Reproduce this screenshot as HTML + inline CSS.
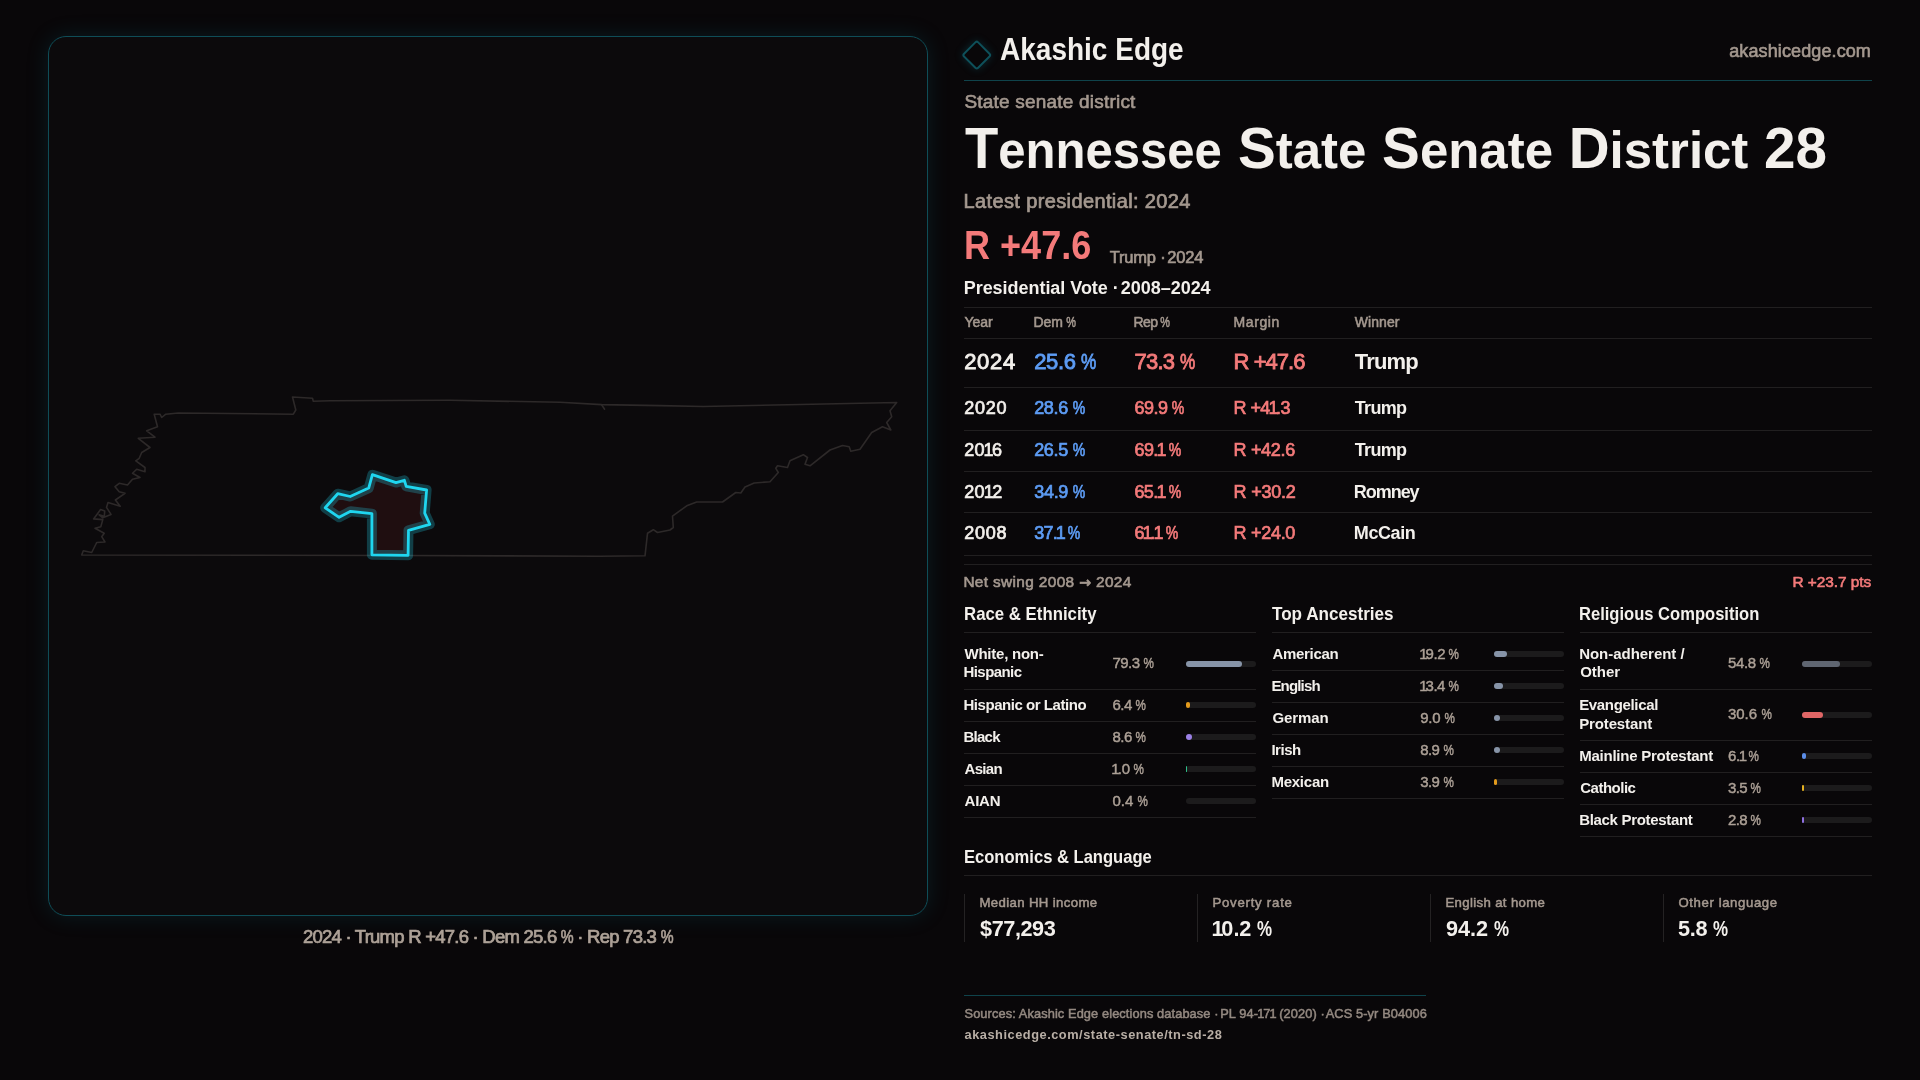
<!DOCTYPE html>
<html><head><meta charset="utf-8"><title>Tennessee State Senate District 28</title><style>
html,body{margin:0;padding:0;}
body{width:1920px;height:1080px;overflow:hidden;background:#090709;font-family:"Liberation Sans",Arial,sans-serif;position:relative;}
#root{position:absolute;left:0;top:0;width:1920px;height:1080px;will-change:transform;}
#root>div{white-space:nowrap;line-height:1;}
.ar{font-family:"DejaVu Sans",sans-serif;font-weight:700;font-size:0.92em;}.pc{display:inline-block;transform:scaleX(.78);margin:0 -.098em;}.d1{margin:0 -.10em 0 -.07em;}.lc{font-size:.9em;}.dt{margin-right:-.16em;}
</style></head><body><div id="root">
<div style="position:absolute;left:48px;top:36px;width:878px;height:878px;border:1px solid #0f4d57;border-radius:18px;background:#0c0a0c;box-shadow:0 0 22px rgba(16,120,140,0.18);"></div>
<div style="position:absolute;left:966.45px;top:43.95px;width:17.5px;height:17.5px;border:2px solid #0e505a;border-radius:3px;transform:rotate(45deg);box-shadow:0 0 8px rgba(20,140,160,0.25);"></div>
<div style="position:absolute;left:964px;top:80px;width:908px;height:1px;background:#0f434b;"></div>
<div style="position:absolute;left:964px;top:307px;width:908px;height:1px;background:#211f20;"></div>
<div style="position:absolute;left:964px;top:338px;width:908px;height:1px;background:#211f20;"></div>
<div style="position:absolute;left:964px;top:387px;width:908px;height:1px;background:#211f20;"></div>
<div style="position:absolute;left:964px;top:430px;width:908px;height:1px;background:#211f20;"></div>
<div style="position:absolute;left:964px;top:471px;width:908px;height:1px;background:#211f20;"></div>
<div style="position:absolute;left:964px;top:512px;width:908px;height:1px;background:#211f20;"></div>
<div style="position:absolute;left:964px;top:555px;width:908px;height:1px;background:#211f20;"></div>
<div style="position:absolute;left:964px;top:564px;width:908px;height:1px;background:#211f20;"></div>
<div style="position:absolute;left:964px;top:632px;width:292px;height:1px;background:#211f20;"></div>
<div style="position:absolute;left:1272px;top:632px;width:292px;height:1px;background:#211f20;"></div>
<div style="position:absolute;left:1580px;top:632px;width:292px;height:1px;background:#211f20;"></div>
<div style="position:absolute;left:964px;top:689px;width:292px;height:1px;background:#211f20;"></div>
<div style="position:absolute;left:1186px;top:660.7px;width:70px;height:6px;background:#1c1b1c;border-radius:3px;"></div>
<div style="position:absolute;left:1186px;top:660.7px;width:55.51px;height:6px;background:#8794a8;border-radius:3px;"></div>
<div style="position:absolute;left:964px;top:721px;width:292px;height:1px;background:#211f20;"></div>
<div style="position:absolute;left:1186px;top:701.7px;width:70px;height:6px;background:#1c1b1c;border-radius:3px;"></div>
<div style="position:absolute;left:1186px;top:701.7px;width:4.48px;height:6px;background:#e39a1c;border-radius:3px;"></div>
<div style="position:absolute;left:964px;top:753px;width:292px;height:1px;background:#211f20;"></div>
<div style="position:absolute;left:1186px;top:733.7px;width:70px;height:6px;background:#1c1b1c;border-radius:3px;"></div>
<div style="position:absolute;left:1186px;top:733.7px;width:6.02px;height:6px;background:#9b80e6;border-radius:3px;"></div>
<div style="position:absolute;left:964px;top:785px;width:292px;height:1px;background:#211f20;"></div>
<div style="position:absolute;left:1186px;top:765.7px;width:70px;height:6px;background:#1c1b1c;border-radius:3px;"></div>
<div style="position:absolute;left:1186px;top:765.7px;width:0.7px;height:6px;background:#2fbf8a;border-radius:3px;"></div>
<div style="position:absolute;left:964px;top:817px;width:292px;height:1px;background:#211f20;"></div>
<div style="position:absolute;left:1186px;top:797.7px;width:70px;height:6px;background:#1c1b1c;border-radius:3px;"></div>
<div style="position:absolute;left:1272px;top:670px;width:292px;height:1px;background:#211f20;"></div>
<div style="position:absolute;left:1494px;top:650.7px;width:70px;height:6px;background:#1c1b1c;border-radius:3px;"></div>
<div style="position:absolute;left:1494px;top:650.7px;width:13.44px;height:6px;background:#8794a8;border-radius:3px;"></div>
<div style="position:absolute;left:1272px;top:702px;width:292px;height:1px;background:#211f20;"></div>
<div style="position:absolute;left:1494px;top:682.7px;width:70px;height:6px;background:#1c1b1c;border-radius:3px;"></div>
<div style="position:absolute;left:1494px;top:682.7px;width:9.38px;height:6px;background:#8794a8;border-radius:3px;"></div>
<div style="position:absolute;left:1272px;top:734px;width:292px;height:1px;background:#211f20;"></div>
<div style="position:absolute;left:1494px;top:714.7px;width:70px;height:6px;background:#1c1b1c;border-radius:3px;"></div>
<div style="position:absolute;left:1494px;top:714.7px;width:6.3px;height:6px;background:#8794a8;border-radius:3px;"></div>
<div style="position:absolute;left:1272px;top:766px;width:292px;height:1px;background:#211f20;"></div>
<div style="position:absolute;left:1494px;top:746.7px;width:70px;height:6px;background:#1c1b1c;border-radius:3px;"></div>
<div style="position:absolute;left:1494px;top:746.7px;width:6.23px;height:6px;background:#8794a8;border-radius:3px;"></div>
<div style="position:absolute;left:1272px;top:798px;width:292px;height:1px;background:#211f20;"></div>
<div style="position:absolute;left:1494px;top:778.7px;width:70px;height:6px;background:#1c1b1c;border-radius:3px;"></div>
<div style="position:absolute;left:1494px;top:778.7px;width:2.73px;height:6px;background:#e39a1c;border-radius:3px;"></div>
<div style="position:absolute;left:1580px;top:689px;width:292px;height:1px;background:#211f20;"></div>
<div style="position:absolute;left:1802px;top:660.7px;width:70px;height:6px;background:#1c1b1c;border-radius:3px;"></div>
<div style="position:absolute;left:1802px;top:660.7px;width:38.36px;height:6px;background:#5f6571;border-radius:3px;"></div>
<div style="position:absolute;left:1580px;top:740px;width:292px;height:1px;background:#211f20;"></div>
<div style="position:absolute;left:1802px;top:711.7px;width:70px;height:6px;background:#1c1b1c;border-radius:3px;"></div>
<div style="position:absolute;left:1802px;top:711.7px;width:21.42px;height:6px;background:#e06666;border-radius:3px;"></div>
<div style="position:absolute;left:1580px;top:772px;width:292px;height:1px;background:#211f20;"></div>
<div style="position:absolute;left:1802px;top:752.7px;width:70px;height:6px;background:#1c1b1c;border-radius:3px;"></div>
<div style="position:absolute;left:1802px;top:752.7px;width:4.27px;height:6px;background:#5b8de8;border-radius:3px;"></div>
<div style="position:absolute;left:1580px;top:804px;width:292px;height:1px;background:#211f20;"></div>
<div style="position:absolute;left:1802px;top:784.7px;width:70px;height:6px;background:#1c1b1c;border-radius:3px;"></div>
<div style="position:absolute;left:1802px;top:784.7px;width:2.45px;height:6px;background:#e3b021;border-radius:3px;"></div>
<div style="position:absolute;left:1580px;top:836px;width:292px;height:1px;background:#211f20;"></div>
<div style="position:absolute;left:1802px;top:816.7px;width:70px;height:6px;background:#1c1b1c;border-radius:3px;"></div>
<div style="position:absolute;left:1802px;top:816.7px;width:1.96px;height:6px;background:#8f70e0;border-radius:3px;"></div>
<div style="position:absolute;left:964px;top:875px;width:908px;height:1px;background:#211f20;"></div>
<div style="position:absolute;left:964px;top:894px;width:1px;height:48px;background:#242223;"></div>
<div style="position:absolute;left:1197px;top:894px;width:1px;height:48px;background:#242223;"></div>
<div style="position:absolute;left:1430px;top:894px;width:1px;height:48px;background:#242223;"></div>
<div style="position:absolute;left:1663px;top:894px;width:1px;height:48px;background:#242223;"></div>
<div style="position:absolute;left:964px;top:995px;width:462px;height:1px;background:#0f434b;"></div>
<svg style="position:absolute;left:0;top:0" width="1920" height="1080" viewBox="0 0 1920 1080"><path d="M81.7,555 L83.3,550.8 L91.7,552.5 L96.7,542.5 L105,542 L101.7,536.7 L104.2,533.3 L95,528.3 L100.8,526.7 L102.8,519.6 L93.6,518.9 L100.6,509.6 L104.7,511.1 L104.3,516.3 L99.1,514.8 L102.8,517.8 L111,514.4 L106.5,507.4 L108,502.6 L120.2,506.3 L115.4,500 L125,493.3 L119.2,491.7 L115,486.7 L119.2,483.3 L127.5,485 L132.5,479.2 L140,477.5 L132.5,473.3 L136.7,469.2 L145,471.7 L145,467.5 L135.8,460.8 L139.2,458.3 L141.7,452.5 L150,447.5 L138.3,438.3 L155,437.2 L146.7,430.8 L157.5,426.7 L154.2,414.2 L160,414.2 L161.7,417.5 L165.8,414.2 L178.3,413 L293.3,414.2 L295.8,410 L292.5,397 L312.5,398.3 L313.3,401.3 L330,400.8 L450,400.3 L560,402.2 L601.5,404.6 L660,405.6 L703,406.5 L800,404.5 L896.7,402.5 L890,410.8 L891.7,416.7 L886.7,422.5 L890.8,430 L882.5,426.7 L871.7,432.5 L860,449.2 L850.8,451.3 L849.2,446.7 L842.5,445.5 L830,450 L810,465.8 L805,464.2 L807.5,457.5 L803.3,454.7 L790,460.8 L787.5,467.5 L777.5,465.8 L775.8,468.3 L778.3,472.5 L770,481.7 L754.2,483 L745,487 L740.8,493 L735.8,492.5 L722.5,502 L696.7,502 L686.7,505.8 L672.5,516.2 L673.3,527.5 L670,530 L657.5,532.5 L653.3,529.7 L647.5,533.3 L645,555.8 L600,556.2 L400,555.5 L81.7,555 Z" fill="none" stroke="#2d2929" stroke-width="1.6" stroke-linejoin="round"/><path d="M601.5,404.6 L604.6,409.2" fill="none" stroke="#2d2929" stroke-width="1.6" stroke-linecap="round"/><path d="M372.4,474.7 L396,482.6 L404.4,480.3 L406.2,486.3 L426.6,490 L424.7,513.1 L429.8,524.3 L408.5,530.3 L408.1,555.3 L371.9,554.8 L371.9,513.6 L350.6,511.3 L339.1,517.3 L325.2,507.8 L337.7,493.7 L350.2,496.5 L368.7,488.1 Z" fill="#1f0e10" stroke="rgba(34,211,238,0.26)" stroke-width="10" stroke-linejoin="round"/><path d="M372.4,474.7 L396,482.6 L404.4,480.3 L406.2,486.3 L426.6,490 L424.7,513.1 L429.8,524.3 L408.5,530.3 L408.1,555.3 L371.9,554.8 L371.9,513.6 L350.6,511.3 L339.1,517.3 L325.2,507.8 L337.7,493.7 L350.2,496.5 L368.7,488.1 Z" fill="none" stroke="#1fd6ef" stroke-width="2.8" stroke-linejoin="round"/></svg>
<div style="position:absolute;left:1000.0px;top:34.2px;color:#f3f0ec;font-size:31.00px;font-weight:700;transform:scaleX(0.9035);transform-origin:0 0;">Akashic Edge</div>
<div style="position:absolute;left:1729.2px;top:41.7px;color:#a4988f;font-size:18.00px;font-weight:400;letter-spacing:0.114px;-webkit-text-stroke:0.65px currentColor;">akashicedge.com</div>
<div style="position:absolute;left:964.5px;top:91.7px;color:#a4988f;font-size:19.00px;font-weight:400;letter-spacing:0.200px;-webkit-text-stroke:0.65px currentColor;">State senate district</div>
<div style="position:absolute;left:965.0px;top:119.8px;color:#f3f0ec;font-size:57.00px;font-weight:700;transform:scaleX(0.9558);transform-origin:0 0;">T<span class="lc">ennessee</span></div>
<div style="position:absolute;left:1238.0px;top:119.8px;color:#f3f0ec;font-size:57.00px;font-weight:700;transform:scaleX(0.9932);transform-origin:0 0;">S<span class="lc">tate</span> S<span class="lc">enate</span> D<span class="lc">istrict</span> 28</div>
<div style="position:absolute;left:963.5px;top:191.1px;color:#a4988f;font-size:20.00px;font-weight:400;letter-spacing:0.375px;-webkit-text-stroke:0.70px currentColor;">Latest presidential: 2024</div>
<div style="position:absolute;left:964.0px;top:225.4px;color:#f47a7a;font-size:40.00px;font-weight:700;transform:scaleX(0.9015);transform-origin:0 0;">R +47.6</div>
<div style="position:absolute;left:1109.7px;top:249.4px;color:#a4988f;font-size:16.50px;font-weight:400;letter-spacing:-0.182px;-webkit-text-stroke:0.66px currentColor;">Trump <span class="dt">·</span> 2024</div>
<div style="position:absolute;left:963.7px;top:279.2px;color:#f3f0ec;font-size:18.00px;font-weight:700;letter-spacing:-0.036px;">Presidential Vote <span class="dt">·</span> 2008–2024</div>
<div style="position:absolute;left:964.5px;top:314.7px;color:#a4988f;font-size:14.00px;font-weight:400;letter-spacing:-0.067px;-webkit-text-stroke:0.56px currentColor;">Year</div>
<div style="position:absolute;left:1033.6px;top:314.7px;color:#a4988f;font-size:14.00px;font-weight:400;letter-spacing:-0.150px;-webkit-text-stroke:0.56px currentColor;">Dem <span class="pc">%</span></div>
<div style="position:absolute;left:1133.6px;top:314.7px;color:#a4988f;font-size:14.00px;font-weight:400;letter-spacing:-0.650px;-webkit-text-stroke:0.56px currentColor;">Rep <span class="pc">%</span></div>
<div style="position:absolute;left:1233.6px;top:314.7px;color:#a4988f;font-size:14.00px;font-weight:400;letter-spacing:0.560px;-webkit-text-stroke:0.56px currentColor;">Margin</div>
<div style="position:absolute;left:1354.7px;top:314.7px;color:#a4988f;font-size:14.00px;font-weight:400;letter-spacing:0.080px;-webkit-text-stroke:0.56px currentColor;">Winner</div>
<div style="position:absolute;left:964.2px;top:350.6px;color:#f3f0ec;font-size:22.00px;font-weight:400;letter-spacing:0.667px;-webkit-text-stroke:0.88px currentColor;">2024</div>
<div style="position:absolute;left:1034.2px;top:350.6px;color:#5d9cf4;font-size:22.00px;font-weight:400;letter-spacing:-0.360px;-webkit-text-stroke:0.88px currentColor;">25.6 <span class="pc">%</span></div>
<div style="position:absolute;left:1134.4px;top:350.6px;color:#f47a7a;font-size:22.00px;font-weight:400;letter-spacing:-0.720px;-webkit-text-stroke:0.88px currentColor;">73.3 <span class="pc">%</span></div>
<div style="position:absolute;left:1233.6px;top:350.6px;color:#f47a7a;font-size:22.00px;font-weight:400;letter-spacing:-0.967px;-webkit-text-stroke:0.88px currentColor;">R +47.6</div>
<div style="position:absolute;left:1354.8px;top:350.6px;color:#f3f0ec;font-size:22.00px;font-weight:700;letter-spacing:-0.850px;">Trump</div>
<div style="position:absolute;left:964.2px;top:399.4px;color:#f3f0ec;font-size:18.00px;font-weight:400;letter-spacing:0.800px;-webkit-text-stroke:0.72px currentColor;">2020</div>
<div style="position:absolute;left:1034.2px;top:399.4px;color:#5d9cf4;font-size:18.00px;font-weight:400;letter-spacing:-0.360px;-webkit-text-stroke:0.72px currentColor;">28.6 <span class="pc">%</span></div>
<div style="position:absolute;left:1134.4px;top:399.4px;color:#f47a7a;font-size:18.00px;font-weight:400;letter-spacing:-0.440px;-webkit-text-stroke:0.72px currentColor;">69.9 <span class="pc">%</span></div>
<div style="position:absolute;left:1233.6px;top:399.4px;color:#f47a7a;font-size:18.00px;font-weight:400;letter-spacing:-0.600px;-webkit-text-stroke:0.72px currentColor;">R +4<span class="d1">1</span>.3</div>
<div style="position:absolute;left:1354.8px;top:399.4px;color:#f3f0ec;font-size:18.00px;font-weight:700;letter-spacing:-0.700px;">Trump</div>
<div style="position:absolute;left:964.2px;top:440.5px;color:#f3f0ec;font-size:18.00px;font-weight:400;letter-spacing:0.267px;-webkit-text-stroke:0.72px currentColor;">20<span class="d1">1</span>6</div>
<div style="position:absolute;left:1034.2px;top:440.5px;color:#5d9cf4;font-size:18.00px;font-weight:400;letter-spacing:-0.360px;-webkit-text-stroke:0.72px currentColor;">26.5 <span class="pc">%</span></div>
<div style="position:absolute;left:1134.4px;top:440.5px;color:#f47a7a;font-size:18.00px;font-weight:400;letter-spacing:-0.520px;-webkit-text-stroke:0.72px currentColor;">69.<span class="d1">1</span> <span class="pc">%</span></div>
<div style="position:absolute;left:1233.6px;top:440.5px;color:#f47a7a;font-size:18.00px;font-weight:400;letter-spacing:-0.333px;-webkit-text-stroke:0.72px currentColor;">R +42.6</div>
<div style="position:absolute;left:1354.8px;top:440.5px;color:#f3f0ec;font-size:18.00px;font-weight:700;letter-spacing:-0.700px;">Trump</div>
<div style="position:absolute;left:964.2px;top:482.6px;color:#f3f0ec;font-size:18.00px;font-weight:400;letter-spacing:0.333px;-webkit-text-stroke:0.72px currentColor;">20<span class="d1">1</span>2</div>
<div style="position:absolute;left:1034.2px;top:482.6px;color:#5d9cf4;font-size:18.00px;font-weight:400;letter-spacing:-0.280px;-webkit-text-stroke:0.72px currentColor;">34.9 <span class="pc">%</span></div>
<div style="position:absolute;left:1134.4px;top:482.6px;color:#f47a7a;font-size:18.00px;font-weight:400;letter-spacing:-0.600px;-webkit-text-stroke:0.72px currentColor;">65.<span class="d1">1</span> <span class="pc">%</span></div>
<div style="position:absolute;left:1233.6px;top:482.6px;color:#f47a7a;font-size:18.00px;font-weight:400;letter-spacing:-0.233px;-webkit-text-stroke:0.72px currentColor;">R +30.2</div>
<div style="position:absolute;left:1353.8px;top:482.6px;color:#f3f0ec;font-size:18.00px;font-weight:700;letter-spacing:-1.040px;">Romney</div>
<div style="position:absolute;left:964.2px;top:524.4px;color:#f3f0ec;font-size:18.00px;font-weight:400;letter-spacing:0.800px;-webkit-text-stroke:0.72px currentColor;">2008</div>
<div style="position:absolute;left:1034.2px;top:524.4px;color:#5d9cf4;font-size:18.00px;font-weight:400;letter-spacing:-0.760px;-webkit-text-stroke:0.72px currentColor;">37.<span class="d1">1</span> <span class="pc">%</span></div>
<div style="position:absolute;left:1134.4px;top:524.4px;color:#f47a7a;font-size:18.00px;font-weight:400;letter-spacing:-0.560px;-webkit-text-stroke:0.72px currentColor;">6<span class="d1">1</span>.<span class="d1">1</span> <span class="pc">%</span></div>
<div style="position:absolute;left:1233.6px;top:524.4px;color:#f47a7a;font-size:18.00px;font-weight:400;letter-spacing:-0.300px;-webkit-text-stroke:0.72px currentColor;">R +24.0</div>
<div style="position:absolute;left:1353.8px;top:524.4px;color:#f3f0ec;font-size:18.00px;font-weight:700;letter-spacing:-0.400px;">McCain</div>
<div style="position:absolute;left:963.4px;top:574.4px;color:#a4988f;font-size:15.40px;font-weight:400;letter-spacing:0.360px;-webkit-text-stroke:0.62px currentColor;">Net swing 2008 <span class="ar">→</span> 2024</div>
<div style="position:absolute;left:1792.4px;top:574.2px;color:#f47a7a;font-size:15.40px;font-weight:400;letter-spacing:-0.040px;-webkit-text-stroke:0.62px currentColor;">R +23.7 pts</div>
<div style="position:absolute;left:963.5px;top:604.6px;color:#f3f0ec;font-size:18.50px;font-weight:700;transform:scaleX(0.9076);transform-origin:0 0;">Race &amp; Ethnicity</div>
<div style="position:absolute;left:1272.4px;top:604.6px;color:#f3f0ec;font-size:18.50px;font-weight:700;transform:scaleX(0.9237);transform-origin:0 0;">Top Ancestries</div>
<div style="position:absolute;left:1579.2px;top:604.6px;color:#f3f0ec;font-size:18.50px;font-weight:700;transform:scaleX(0.8950);transform-origin:0 0;">Religious Composition</div>
<div style="position:absolute;left:964.5px;top:645.8px;color:#f3f0ec;font-size:15.00px;font-weight:700;letter-spacing:-0.240px;">White, non-</div>
<div style="position:absolute;left:963.5px;top:664.4px;color:#f3f0ec;font-size:15.00px;font-weight:700;letter-spacing:-0.571px;">Hispanic</div>
<div style="position:absolute;left:1112.4px;top:655.0px;color:#aca096;font-size:15.00px;font-weight:400;letter-spacing:-0.520px;-webkit-text-stroke:0.45px currentColor;">79.3 <span class="pc">%</span></div>
<div style="position:absolute;left:963.5px;top:696.6px;color:#f3f0ec;font-size:15.00px;font-weight:700;letter-spacing:-0.459px;">Hispanic or Latino</div>
<div style="position:absolute;left:1112.4px;top:696.6px;color:#aca096;font-size:15.00px;font-weight:400;letter-spacing:-0.400px;-webkit-text-stroke:0.45px currentColor;">6.4 <span class="pc">%</span></div>
<div style="position:absolute;left:963.5px;top:728.6px;color:#f3f0ec;font-size:15.00px;font-weight:700;letter-spacing:-0.750px;">Black</div>
<div style="position:absolute;left:1112.4px;top:728.6px;color:#aca096;font-size:15.00px;font-weight:400;letter-spacing:-0.450px;-webkit-text-stroke:0.45px currentColor;">8.6 <span class="pc">%</span></div>
<div style="position:absolute;left:964.5px;top:760.6px;color:#f3f0ec;font-size:15.00px;font-weight:700;letter-spacing:-0.700px;">Asian</div>
<div style="position:absolute;left:1112.4px;top:760.6px;color:#aca096;font-size:15.00px;font-weight:400;letter-spacing:-0.350px;-webkit-text-stroke:0.45px currentColor;"><span class="d1">1</span>.0 <span class="pc">%</span></div>
<div style="position:absolute;left:964.5px;top:792.5px;color:#f3f0ec;font-size:15.00px;font-weight:700;letter-spacing:-0.200px;">AIAN</div>
<div style="position:absolute;left:1112.4px;top:792.5px;color:#aca096;font-size:15.00px;font-weight:400;-webkit-text-stroke:0.45px currentColor;">0.4 <span class="pc">%</span></div>
<div style="position:absolute;left:1272.4px;top:645.8px;color:#f3f0ec;font-size:15.00px;font-weight:700;letter-spacing:-0.286px;">American</div>
<div style="position:absolute;left:1420.2px;top:645.8px;color:#aca096;font-size:15.00px;font-weight:400;letter-spacing:-0.440px;-webkit-text-stroke:0.45px currentColor;"><span class="d1">1</span>9.2 <span class="pc">%</span></div>
<div style="position:absolute;left:1271.4px;top:677.8px;color:#f3f0ec;font-size:15.00px;font-weight:700;letter-spacing:-0.833px;">English</div>
<div style="position:absolute;left:1420.2px;top:677.8px;color:#aca096;font-size:15.00px;font-weight:400;letter-spacing:-0.480px;-webkit-text-stroke:0.45px currentColor;"><span class="d1">1</span>3.4 <span class="pc">%</span></div>
<div style="position:absolute;left:1272.4px;top:709.8px;color:#f3f0ec;font-size:15.00px;font-weight:700;letter-spacing:-0.080px;">German</div>
<div style="position:absolute;left:1420.2px;top:709.8px;color:#aca096;font-size:15.00px;font-weight:400;letter-spacing:-0.250px;-webkit-text-stroke:0.45px currentColor;">9.0 <span class="pc">%</span></div>
<div style="position:absolute;left:1271.4px;top:741.8px;color:#f3f0ec;font-size:15.00px;font-weight:700;letter-spacing:-0.450px;">Irish</div>
<div style="position:absolute;left:1420.2px;top:741.8px;color:#aca096;font-size:15.00px;font-weight:400;letter-spacing:-0.550px;-webkit-text-stroke:0.45px currentColor;">8.9 <span class="pc">%</span></div>
<div style="position:absolute;left:1271.4px;top:773.8px;color:#f3f0ec;font-size:15.00px;font-weight:700;letter-spacing:-0.233px;">Mexican</div>
<div style="position:absolute;left:1420.2px;top:773.8px;color:#aca096;font-size:15.00px;font-weight:400;letter-spacing:-0.550px;-webkit-text-stroke:0.45px currentColor;">3.9 <span class="pc">%</span></div>
<div style="position:absolute;left:1579.2px;top:645.8px;color:#f3f0ec;font-size:15.00px;font-weight:700;letter-spacing:-0.031px;">Non-adherent /</div>
<div style="position:absolute;left:1580.2px;top:664.4px;color:#f3f0ec;font-size:15.00px;font-weight:700;">Other</div>
<div style="position:absolute;left:1728.0px;top:655.0px;color:#aca096;font-size:15.00px;font-weight:400;letter-spacing:-0.360px;-webkit-text-stroke:0.45px currentColor;">54.8 <span class="pc">%</span></div>
<div style="position:absolute;left:1579.2px;top:696.9px;color:#f3f0ec;font-size:15.00px;font-weight:700;letter-spacing:-0.340px;">Evangelical</div>
<div style="position:absolute;left:1579.2px;top:715.6px;color:#f3f0ec;font-size:15.00px;font-weight:700;letter-spacing:-0.133px;">Protestant</div>
<div style="position:absolute;left:1728.0px;top:706.2px;color:#aca096;font-size:15.00px;font-weight:400;letter-spacing:-0.040px;-webkit-text-stroke:0.45px currentColor;">30.6 <span class="pc">%</span></div>
<div style="position:absolute;left:1579.2px;top:747.8px;color:#f3f0ec;font-size:15.00px;font-weight:700;letter-spacing:-0.244px;">Mainline Protestant</div>
<div style="position:absolute;left:1728.0px;top:747.8px;color:#aca096;font-size:15.00px;font-weight:400;letter-spacing:-0.400px;-webkit-text-stroke:0.45px currentColor;">6.<span class="d1">1</span> <span class="pc">%</span></div>
<div style="position:absolute;left:1580.2px;top:779.8px;color:#f3f0ec;font-size:15.00px;font-weight:700;letter-spacing:-0.486px;">Catholic</div>
<div style="position:absolute;left:1728.0px;top:779.8px;color:#aca096;font-size:15.00px;font-weight:400;letter-spacing:-0.650px;-webkit-text-stroke:0.45px currentColor;">3.5 <span class="pc">%</span></div>
<div style="position:absolute;left:1579.2px;top:811.6px;color:#f3f0ec;font-size:15.00px;font-weight:700;letter-spacing:-0.320px;">Black Protestant</div>
<div style="position:absolute;left:1728.0px;top:811.6px;color:#aca096;font-size:15.00px;font-weight:400;letter-spacing:-0.650px;-webkit-text-stroke:0.45px currentColor;">2.8 <span class="pc">%</span></div>
<div style="position:absolute;left:963.5px;top:847.5px;color:#f3f0ec;font-size:18.50px;font-weight:700;transform:scaleX(0.8952);transform-origin:0 0;">Economics &amp; Language</div>
<div style="position:absolute;left:979.4px;top:895.7px;color:#a4988f;font-size:13.20px;font-weight:400;letter-spacing:0.373px;-webkit-text-stroke:0.53px currentColor;">Median HH income</div>
<div style="position:absolute;left:980.0px;top:917.8px;color:#f3f0ec;font-size:21.70px;font-weight:700;letter-spacing:-0.433px;">$77,293</div>
<div style="position:absolute;left:1212.4px;top:895.7px;color:#a4988f;font-size:13.20px;font-weight:400;letter-spacing:0.764px;-webkit-text-stroke:0.53px currentColor;">Poverty rate</div>
<div style="position:absolute;left:1213.0px;top:917.8px;color:#f3f0ec;font-size:21.70px;font-weight:700;letter-spacing:-0.040px;"><span class="d1">1</span>0.2 <span class="pc">%</span></div>
<div style="position:absolute;left:1445.4px;top:895.7px;color:#a4988f;font-size:13.20px;font-weight:400;letter-spacing:0.357px;-webkit-text-stroke:0.53px currentColor;">English at home</div>
<div style="position:absolute;left:1446.0px;top:917.8px;color:#f3f0ec;font-size:21.70px;font-weight:700;letter-spacing:-0.080px;">94.2 <span class="pc">%</span></div>
<div style="position:absolute;left:1678.4px;top:895.7px;color:#a4988f;font-size:13.20px;font-weight:400;letter-spacing:0.600px;-webkit-text-stroke:0.53px currentColor;">Other language</div>
<div style="position:absolute;left:1678.0px;top:917.8px;color:#f3f0ec;font-size:21.70px;font-weight:700;letter-spacing:-0.300px;">5.8 <span class="pc">%</span></div>
<div style="position:absolute;left:964.5px;top:1007.9px;color:#948981;font-size:12.80px;font-weight:400;letter-spacing:0.105px;-webkit-text-stroke:0.51px currentColor;">Sources: Akashic Edge elections database <span class="dt">·</span> PL 94-<span class="d1">1</span>7<span class="d1">1</span> (2020) <span class="dt">·</span> ACS 5-yr B04006</div>
<div style="position:absolute;left:964.5px;top:1028.5px;color:#b8aea5;font-size:12.80px;font-weight:700;letter-spacing:0.528px;">akashicedge.com/state-senate/tn-sd-28</div>
<div style="position:absolute;left:302.9px;top:927.7px;color:#ada197;font-size:18.50px;font-weight:400;letter-spacing:-0.760px;-webkit-text-stroke:0.74px currentColor;">2024 · Trump R +47.6 · Dem 25.6 <span class="pc">%</span> · Rep 73.3 <span class="pc">%</span></div>
</div></body></html>
